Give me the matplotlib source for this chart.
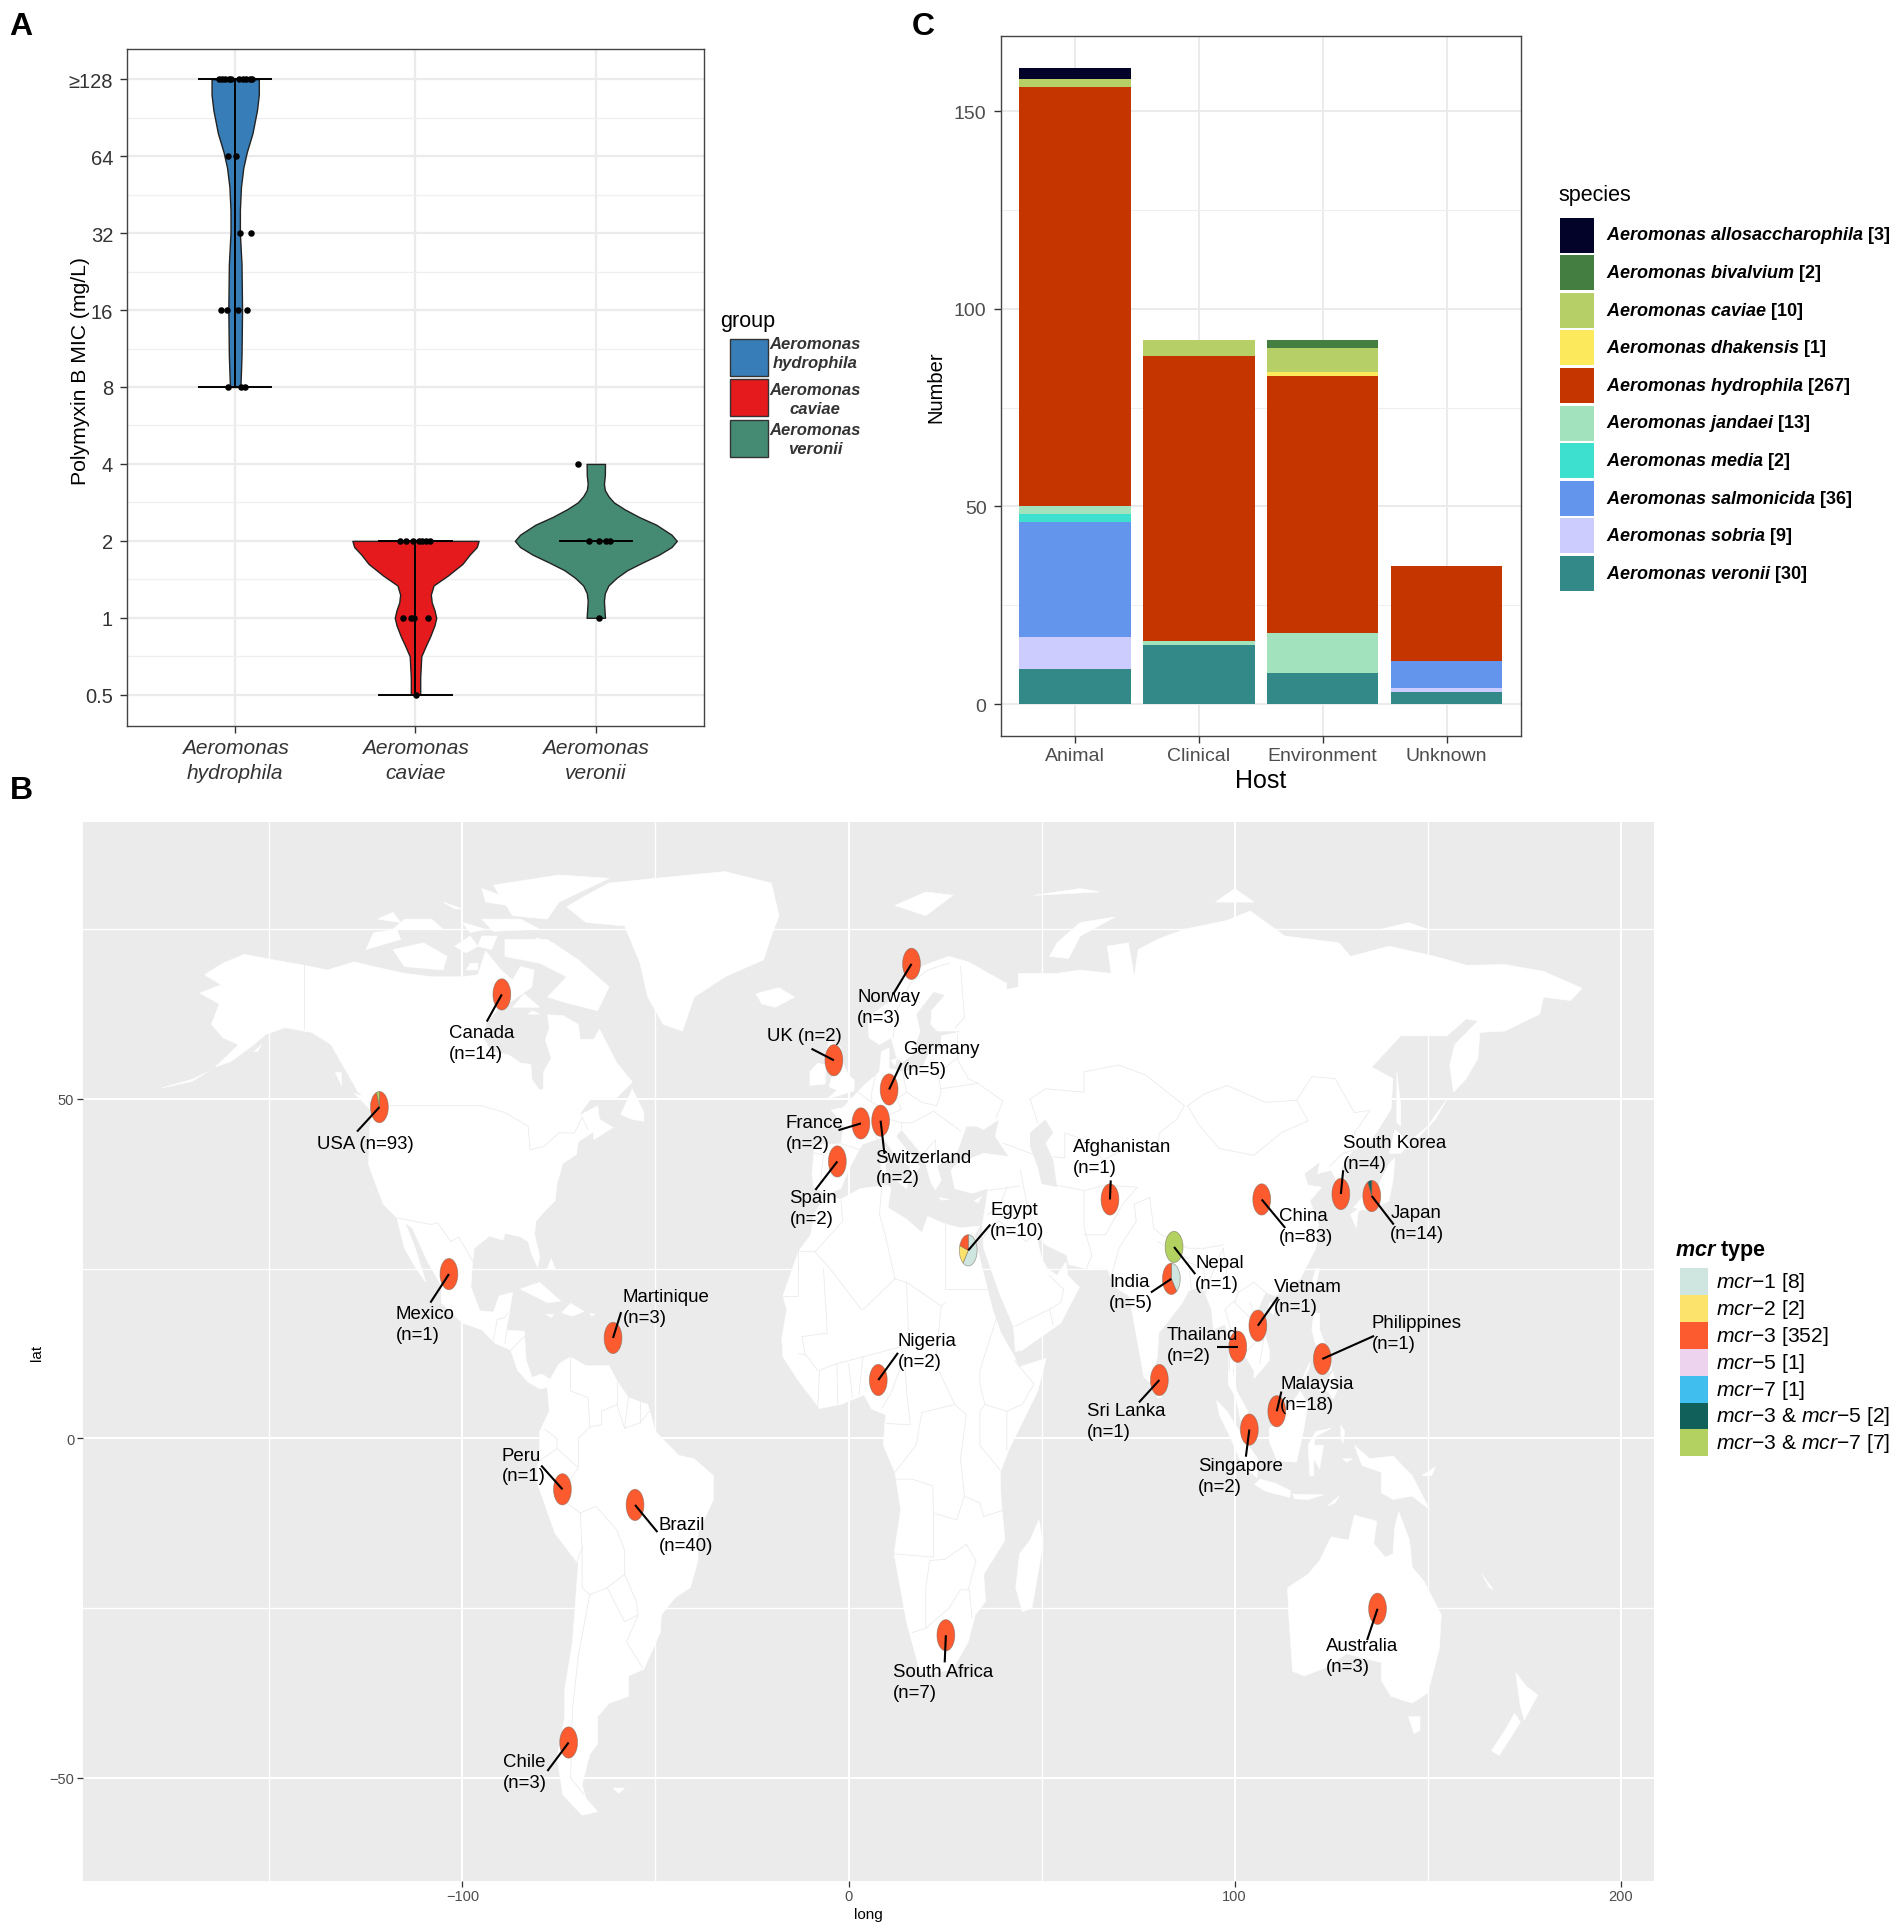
import numpy as np
import matplotlib
matplotlib.use('Agg')
import matplotlib.pyplot as plt
from matplotlib.patches import Wedge, Rectangle

plt.rcParams['font.family'] = 'Liberation Sans'
plt.rcParams['mathtext.fontset'] = 'custom'
plt.rcParams['mathtext.rm'] = 'Liberation Sans'
plt.rcParams['mathtext.it'] = 'Liberation Sans:italic'
plt.rcParams['mathtext.bf'] = 'Liberation Sans:bold'
plt.rcParams['mathtext.bfit'] = 'Liberation Sans:italic:bold'

W, H = 1904, 1933

#%% data panel A, MIC on log2 scale
mic_ticks = [-1, 0, 1, 2, 3, 4, 5, 6, 7]
mic_labels = ['0.5', '1', '2', '4', '8', '16', '32', '64', '≥128']
group_names = ['Aeromonas\nhydrophila', 'Aeromonas\ncaviae', 'Aeromonas\nveronii']
group_colors = ['#377EB8', '#E41A1C', '#458B74']

hydro_y = [3, 3.2, 3.4, 4, 4.6, 5, 5.3, 5.6, 5.85, 6.05, 6.3, 6.6, 6.8, 7]
hydro_w = [.029, .032, .035, .038, .035, .026, .026, .032, .045, .064, .096, .121, .131, .131]
cav_y = [-1, -.78, -.5, -.35, -.25, -.1, 0, .1, .2, .3, .42, .55, .7, .82, .92, 1]
cav_w = [.026, .026, .032, .06, .08, .105, .115, .105, .09, .085, .1, .18, .26, .3, .34, .35]
ver_y = [0, .1, .22, .32, .42, .52, .62, .72, .82, .92, 1, 1.08, 1.21, 1.31, 1.41, 1.5, 1.58, 1.66, 1.74, 1.85, 2]
ver_w = [.051, .048, .045, .05, .07, .115, .175, .26, .35, .42, .449, .42, .335, .24, .16, .1, .07, .05, .045, .05, .051]

hydro_pts_x = [.908, .927, .946, .965, .978, 1.022, 1.041, 1.06, 1.08, 1.092, .959, 1.006, 1.025, 1.089,
               .924, .952, 1.016, 1.064, .959, 1.035, 1.054]
hydro_pts_y = [7, 7, 7, 7, 7, 7, 7, 7, 7, 7, 6, 6, 5, 5, 4, 4, 4, 4, 3, 3, 3]
cav_pts_x = [1.914, 1.949, 1.984, 2.019, 2.038, 2.057, 2.083, 1.93, 1.975, 1.994, 2.067, 2.003]
cav_pts_y = [1, 1, 1, 1, 1, 1, 1, 0, 0, 0, 0, -1]
ver_pts_x = [2.901, 2.962, 3.019, 3.054, 3.076, 3.019]
ver_pts_y = [2, 1, 1, 1, 1, 0]

#%% data panel C
hosts = ['Animal', 'Clinical', 'Environment', 'Unknown']
species = ['allosaccharophila', 'bivalvium', 'caviae', 'dhakensis', 'hydrophila',
           'jandaei', 'media', 'salmonicida', 'sobria', 'veronii']
species_n = [3, 2, 10, 1, 267, 13, 2, 36, 9, 30]
species_colors = ['#03032A', '#447F41', '#B6D067', '#FDE95C', '#C53500',
                  '#A2E3BE', '#3DE0CF', '#6495ED', '#CCCCFF', '#338888']
counts = {
    'veronii': [9, 15, 8, 3],
    'sobria': [8, 0, 0, 1],
    'salmonicida': [29, 0, 0, 7],
    'media': [2, 0, 0, 0],
    'jandaei': [2, 1, 10, 0],
    'hydrophila': [106, 72, 65, 24],
    'dhakensis': [0, 0, 1, 0],
    'caviae': [2, 4, 6, 0],
    'bivalvium': [0, 0, 2, 0],
    'allosaccharophila': [3, 0, 0, 0],
}

#%% data panel B
mcr_labels = [r'$\mathit{mcr}$−1 [8]', r'$\mathit{mcr}$−2 [2]', r'$\mathit{mcr}$−3 [352]', r'$\mathit{mcr}$−5 [1]',
              r'$\mathit{mcr}$−7 [1]', r'$\mathit{mcr}$−3 & $\mathit{mcr}$−5 [2]', r'$\mathit{mcr}$−3 & $\mathit{mcr}$−7 [7]']
mcr_colors = ['#CFE6E0', '#FCE36B', '#FC5A2F', '#EED3EE', '#40BFEF', '#12605A', '#B2D160']

# name, lon, lat, label lon, label lat, leader lon, leader lat
sites = [
    ('USA (n=93)', -121.5, 48.8, -137.7, 43.5, -127.3, 45.2),
    ('Canada\n(n=14)', -89.8, 65.4, -103.5, 58.3, -93.7, 61.4),
    ('Norway\n(n=3)', 16.3, 69.9, 2.2, 63.6, 11.5, 65.4),
    ('UK (n=2)', -3.8, 55.7, -21.1, 59.4, -9.6, 57.4),
    ('Germany\n(n=5)', 10.5, 51.4, 14.1, 55.9, 13.7, 55.3),
    ('France\n(n=2)', 3.2, 46.4, -16.3, 45, -2.6, 45.4),
    ('Switzerland\n(n=2)', 8.3, 46.8, 7, 39.9, 9.3, 41.9),
    ('Spain\n(n=2)', -2.9, 40.8, -15.3, 33.9, -8.6, 36.6),
    ('Mexico\n(n=1)', -103.5, 24.2, -117.3, 16.9, -108.3, 20),
    ('Martinique\n(n=3)', -61, 14.8, -58.5, 19.3, -58.9, 18.6),
    ('Peru\n(n=1)', -74.1, -7.5, -89.8, -4, -79.6, -4),
    ('Brazil\n(n=40)', -55.3, -9.8, -49.2, -14.2, -49.5, -13.8),
    ('Chile\n(n=3)', -72.5, -44.8, -89.5, -49.2, -78, -49),
    ('Nigeria\n(n=2)', 7.7, 8.6, 12.8, 12.9, 12.8, 12.6),
    ('South Africa\n(n=7)', 25.2, -29, 11.5, -35.9, 24.9, -33),
    ('Egypt\n(n=10)', 31, 27.7, 36.7, 32.2, 36.7, 31.5),
    ('Afghanistan\n(n=1)', 67.7, 35.2, 58.1, 41.5, 67.9, 38),
    ('India\n(n=5)', 83.6, 23.5, 67.4, 21.5, 78.3, 21.5),
    ('Nepal\n(n=1)', 84.3, 28.2, 89.8, 24.4, 89.8, 24.2),
    ('Sri Lanka\n(n=1)', 80.5, 8.6, 61.7, 2.6, 75.2, 5.3),
    ('Thailand\n(n=2)', 100.8, 13.5, 82.4, 13.7, 95.5, 13.5),
    ('Vietnam\n(n=1)', 106, 16.6, 110.2, 20.9, 111.2, 20.8),
    ('Singapore\n(n=2)', 103.8, 1.3, 90.4, -5.6, 102.9, -2.7),
    ('Malaysia\n(n=18)', 110.9, 4, 111.8, 6.6, 112.1, 6.9),
    ('Philippines\n(n=1)', 122.7, 11.7, 135.5, 15.5, 136.1, 15.1),
    ('China\n(n=83)', 107, 35.2, 111.5, 31.3, 113.1, 31),
    ('South Korea\n(n=4)', 127.5, 36, 128.1, 42.1, 128.1, 39.5),
    ('Japan\n(n=14)', 135.5, 35.7, 140.3, 31.7, 141.2, 31.5),
    ('Australia\n(n=3)', 137, -25.1, 123.6, -32.1, 134.3, -29.7),
]
# counts per mcr type clockwise from the top, only sites that are not all mcr-3
pie_shares = {
    'USA (n=93)': [0, 0, 88, 0, 0, 0, 5],
    'Egypt\n(n=10)': [6, 2, 2, 0, 0, 0, 0],
    'India\n(n=5)': [2, 0, 3, 0, 0, 0, 0],
    'Nepal\n(n=1)': [0, 0, 0, 0, 0, 0, 1],
    'Japan\n(n=14)': [0, 0, 13, 0, 0, 1, 0],
}

# coastlines, lon/lat
north_america = [(-168,65.6),(-164,66.5),(-162.5,66.8),(-166.8,68.3),(-162,70),(-156.5,71.3),(-148,70.4),(-141,69.7),(-135,69),(-128,70.2),(-123,69.5),(-115,68.5),(-108,68),(-100,68),(-96,68.3),(-94,71.8),(-90,69),(-87,67.5),(-85,69.5),(-81.5,69),(-82,66.5),(-87,64.5),(-90.5,63.5),(-94,61),(-94.5,58.8),(-92.5,57),(-88,56.5),(-85,55.3),(-82.3,55.1),(-82,52.9),(-80,51.3),(-79,51.5),(-79,54),(-77,56),(-78.5,58.7),(-77.5,60.5),(-78,62.4),(-74,62.3),(-70,61),(-69.5,58.8),(-66,58.8),(-64.5,60.3),(-62,57.5),(-60,55.3),(-56,52.5),(-60,50.2),(-66.5,50.2),(-70,47.5),(-65,49),(-64.5,47),(-61,45.8),(-66,44),(-66,45.2),(-70,43.7),(-70.5,41.8),(-74,40.5),(-75.5,37.5),(-76,35),(-78,33.9),(-81,32),(-81.3,30),(-80,26.8),(-80.5,25.2),(-82,27),(-83,29),(-85,29.7),(-89,30.2),(-89.5,29.2),(-93,29.8),(-97,28),(-97.5,25),(-97.8,22.3),(-95.5,18.8),(-92,18.6),(-90.5,21),(-87,21.5),(-88,18),(-88.7,15.9),(-84,15.8),(-83.5,11.5),(-82,9),(-79.5,9.5),(-77.3,8.7),(-78,7.5),(-80,7.3),(-83,8.3),(-85.7,10),(-87.5,13),(-91.5,14),(-95,16),(-100,17),(-105.5,20),(-105.5,22.5),(-109,26),(-113,31),(-114.8,31.7),(-112.5,28.5),(-110,24),(-109.5,23),(-112,25),(-115,28),(-117,32.5),(-120.5,34.5),(-122.5,37.5),(-124.3,40.3),(-124,46),(-122.8,49),(-127,51),(-130.5,54.5),(-134,58),(-139,59.8),(-146,60.5),(-151,59.5),(-154,58),(-160,55.5),(-164,54.7),(-158,58),(-162,59),(-165,61),(-163,64)]
south_america = [(-77.3,8.7),(-75,11),(-72,12),(-68,10.7),(-62,10.7),(-60,8.5),(-57,6),(-52,5),(-50,1),(-44,-2.5),(-40,-3),(-35,-5.5),(-35,-9),(-39,-14),(-39,-18),(-41,-22),(-45,-23.5),(-48.5,-26),(-48.7,-28.5),(-53,-34),(-57,-35),(-57,-38),(-62,-39),(-65,-41),(-65,-45),(-67,-46.5),(-69,-51),(-68,-53),(-65,-55),(-69,-55.5),(-74,-52.5),(-75.5,-47),(-73.5,-41),(-73.5,-37),(-71.5,-30),(-70,-18.5),(-76,-14),(-81,-6),(-80,-2),(-80,1),(-77.5,4),(-78,7.5)]
africa = [(-5.9,35.8),(-2,35.2),(3,36.8),(10,37.3),(11,36.9),(10.2,34),(15,32.3),(19,30.3),(20.5,32.7),(25,31.6),(29,31),(32.5,31.2),(34,31.3),(32.6,29.9),(34,26.5),(36,22),(37.3,19),(39.5,15.5),(43,12),(44,10.5),(51.2,11.8),(49,7),(46,3.5),(41.5,-1.7),(39.3,-5),(39.5,-9),(40.5,-15),(35,-20),(35.5,-24),(32.8,-26),(31,-30),(27,-34),(20,-34.8),(18.3,-34),(15,-27),(11.8,-17),(13.5,-10.5),(12,-5),(9,-1),(9.6,3.5),(6,4.3),(4,6.4),(-2,5),(-7.5,4.4),(-13,8.5),(-17,12),(-17.3,14.7),(-16,19),(-17,21),(-13,27.5),(-9.8,30),(-9,33)]
eurasia = [(-5.5,36),(-9,37),(-9.5,38.8),(-8.8,43.2),(-2,43.4),(-1.2,46),(-4.5,48.4),(-1.5,48.7),(1.5,50.5),(4,52),(8,54),(8.5,57),(10.5,57.5),(10.5,54.5),(14,54),(19,54.5),(21,57),(24,57.5),(24,59.3),(30,60),(23,60),(21.3,61),(21.5,63),(25,65.3),(22,65.8),(17.5,62.5),(18.5,60),(16.5,56.5),(14,55.5),(12.5,56),(11,59),(8,58),(5.3,59),(5,62),(11,64.5),(15,68.5),(21,70),(26,71),(31,70.2),(41,67),(40.5,64.7),(35,64.5),(33,66.7),(40,66),(44,66.5),(44,68.5),(54,68.5),(60,69),(68,68.5),(67,72.5),(72.5,73),(74,68),(75,72),(80,73.5),(87,75),(98,76.3),(104,77.7),(113,74),(127,73),(130,71),(140,72.5),(152,71),(160,69.7),(170,69.8),(180,68.8),(190,66.3),(187,64.5),(180,65),(179,62.5),(170,60),(163.5,59.8),(163,56),(160,53),(156.7,51),(155.7,55),(157,58),(163,61.5),(160,61.8),(155,59.3),(143,59.3),(135.5,54.7),(141,53),(140.5,48.5),(135,43.5),(130.7,42.5),(127.5,39.7),(129.4,37),(129,35.2),(126.5,34.5),(126.7,37.5),(125,39.5),(121.5,39),(122,40.7),(118,39),(119,37.3),(122.5,37),(119.5,35),(121.8,31.5),(121,28),(117,23.5),(110.5,21),(108,21.5),(106,19),(109,13),(109,11.5),(105,8.8),(105,10),(102.5,12.3),(100.8,13.3),(99.5,10),(100.5,7),(103.4,4),(104.2,1.4),(101.5,2.8),(100.3,6),(98.3,8),(98.6,14),(97.5,16.8),(94.5,16),(94,19),(91.5,22.5),(88,21.7),(86.5,20),(80.3,15.5),(80,12),(78,8.3),(76.5,9),(73,20),(72.6,21),(69,22.3),(67,25),(61.6,25),(57,25.6),(56.5,27),(51,28.5),(48.5,30.2),(50,26.5),(51.5,25),(54,24),(56.3,26),(56.8,24),(59.8,22.3),(55,17),(45,13),(43.2,12.8),(42.7,16.5),(39,21.5),(35,28),(34.6,31.3),(35.8,35.5),(36,36.8),(32,36.1),(27.5,36.8),(26.5,39.5),(29,41),(31.5,41.2),(35,42),(41.5,41.5),(38,44.5),(39,47),(35,45.5),(33,46),(30.5,46),(28,42),(26,40.7),(24,40.7),(23,40),(24,38),(22.5,36.6),(21.3,37.7),(19.5,41.5),(13.7,45.5),(12.3,44.5),(16,41.8),(18.5,40),(16.6,38.5),(15.7,38),(15.9,40),(12,41.8),(8.9,44.4),(3.5,43.3),(0.2,39.8),(-2,36.8)]
australia = [(113.7,-22),(114,-26),(115,-34.3),(118,-35),(123.5,-33.8),(129,-31.7),(134,-32.5),(138,-33),(138,-35.7),(140.5,-38),(146,-39),(150,-37.5),(153,-31),(153.5,-26),(149,-21),(146,-19),(145.3,-15),(142.5,-10.8),(141.5,-13),(141,-17),(139,-17.5),(136,-15.5),(136.8,-12.2),(131,-11.3),(129.5,-15),(125,-14.5),(122,-18),(119,-20)]
greenland = [(-73,78.3),(-68,80),(-62,81.8),(-50,82.5),(-32,83.5),(-20,81.8),(-18,77),(-20,74),(-22,70.5),(-32,68),(-40,65),(-43,60),(-48,61),(-52,65),(-54,70),(-58,75.5),(-68,76)]
islands = [
    [(-62,66.5),(-65,63),(-72,64),(-78,65),(-73,68),(-80,70),(-89,71),(-89,73.5),(-78,73.5),(-70,70.5)],
    [(-105,69),(-115,69.5),(-118,72),(-110,73),(-104,71)],
    [(-116,73.5),(-125,72),(-123,74.5),(-117,75)],
    [(-62,82.5),(-75,83),(-92,81.5),(-87,77),(-78,76.5),(-75,79)],
    [(-80,75),(-92,74.7),(-95,76.5),(-85,76.5)],
    [(-105,75),(-118,75),(-115,76.5),(-108,76.5)],
    [(-99,71.5),(-102,72.5),(-98,74),(-96,72.5)],
    [(-92.5,72),(-96,72.5),(-95,74),(-91,74)],
    [(-96,69),(-99,69),(-98,70),(-96,70)],
    [(-90,80),(-95,81),(-94,79),(-88,78.5)],
    [(-94,75),(-100,76),(-98,74.5)],
    [(-116,76),(-122,76.5),(-118,77.5)],
    [(-100,78),(-105,79),(-102,78)],
    [(-77,73),(-81,73.7),(-76,72.8)],
    [(-83,62.5),(-80,62.5),(-82,63)],
    [(-128,50.8),(-124,48.5),(-123.5,48.6),(-125,50.3)],
    [(-133,54),(-131.5,54),(-131.5,52)],
    [(-154,57),(-152,58),(-153,57)],
    [(-166,54),(-170,52.9),(-178,51.6),(-170,52.6)],
    [(-59,47.7),(-56,51.5),(-53,48),(-53,46.7),(-56,47)],
    [(-80,63.5),(-87,63.5),(-84,65.5)],
    [(-85,22),(-80,23),(-74.5,20.2),(-78,20)],
    [(-74.3,18.5),(-72,19.9),(-68.5,18.7),(-71.5,18)],
    [(-78.3,18.3),(-76.3,18.2),(-77,17.8)],
    [(-67,18.4),(-65.7,18.3),(-66.5,18)],
    [(-78,25),(-77,26.5),(-76,25)],
    [(-24,65.5),(-18,66.4),(-14,65),(-19,63.5),(-22.5,64)],
    [(-5.5,50),(1.4,51.2),(1.5,52.8),(0,53.5),(-2,56),(-2,57.6),(-5,58.6),(-6,56.5),(-3,54.5),(-4.5,53),(-5,51.8),(-3,51.3)],
    [(-10,52),(-6,52.2),(-6,55),(-8,55.3),(-10,54)],
    [(12,78.5),(20,80.5),(27,80),(20,77)],
    [(52,71),(57,70.7),(60,74),(69,76.8),(60,76),(54,73)],
    [(95,79),(105,79),(100,81)],
    [(138,75),(145,76),(150,75)],
    [(48,80),(60,81),(65,80.5)],
    [(142,54),(143,49),(143,46),(142,46.5),(142,50)],
    [(146,44),(150,46),(155,50),(152,47),(147,44)],
    [(130.8,34),(135,33.5),(140,35),(141,38),(141.5,41.3),(140,40.5),(137,37),(133,35.5)],
    [(140,42),(141.5,45.5),(145.5,43.3),(143,42)],
    [(130,33),(131.5,31),(132,33.5),(134.5,34),(132.5,34)],
    [(121,25),(122,25),(120.8,22),(120,23)],
    [(109,20),(111,19.8),(110,18.2),(108.7,19)],
    [(120.5,18.5),(122,18.4),(122,16),(124,13),(121,13.7),(120,16)],
    [(122,7),(125.5,9.8),(126.5,7),(125.5,5.8),(124,7)],
    [(122,11.8),(125,12.5),(125,10),(123,9.5)],
    [(117.2,8.4),(119.5,11.3),(119.2,10.2),(117.5,8.3)],
    [(95.3,5.6),(98,4),(103.5,-1),(106,-3),(105.8,-5.8),(102,-4),(99,0),(96,3.5)],
    [(105.2,-6.8),(106.5,-6),(110.5,-6.6),(114.5,-7.7),(114.3,-8.7),(108,-7.8)],
    [(115,-8.2),(119,-8.3),(123,-8.3),(119,-9),(115.5,-8.9)],
    [(109,1.5),(111.5,2.5),(114,4.5),(117,7),(119,5),(117.8,1),(116,-3.5),(111,-3.3),(109,-0.5)],
    [(119.5,-5.5),(119,-1),(121,1),(125,1.5),(121,0.3),(120.5,-1),(123,-1),(122,-4.5),(120.5,-3),(120.5,-5.5)],
    [(127.5,2),(128.5,1),(128,-0.8),(127.5,0.5)],
    [(128,-3),(130.5,-3),(129,-3.5)],
    [(131,-1),(135,-3),(141,-2.6),(146,-5.5),(150.5,-10.5),(146,-8.5),(141,-9),(138,-8),(138,-5),(133,-4)],
    [(148.5,-5.5),(152,-4.2),(151,-5.5)],
    [(124,-10),(127,-8.5),(126,-9.5)],
    [(80,9.8),(81.8,7.5),(81,6),(80,6),(79.8,8)],
    [(49.3,-12),(50.4,-15.5),(47.5,-25),(45,-25.5),(43.3,-22),(44.3,-17),(47,-15)],
    [(145,-41),(148,-41),(148,-43),(146.5,-43.5)],
    [(172.8,-34.5),(175.5,-36.5),(178.5,-37.8),(175,-41.5),(174,-39.5)],
    [(172.5,-40.5),(174,-41.8),(171,-44.5),(168.5,-46.7),(166.5,-46),(170,-43)],
    [(164,-20),(167,-22.3),(166,-22)],
    [(12.5,38),(15.6,38.2),(15,36.7)],
    [(8.3,41),(9.7,41),(9.6,39.1),(8.5,39)],
    [(8.7,42.5),(9.5,43),(9.4,41.6)],
    [(23.5,35.5),(26,35.2),(24,35.1)],
    [(32.5,35),(34.5,35.6),(33.5,34.7)],
    [(11,55.7),(12.5,56),(12,54.9)],
    [(-61,-51.5),(-58,-51.5),(-59.5,-52.3)],
]
caspian = [(47,45),(51,47),(53,45),(51,43.5),(53,41),(54,37),(50,37.5),(49,40),(47,43)]
# country borders
borders = [
    [(-141,69.7),(-141,60.3)],
    [(-123,49),(-95,49),(-89,48),(-83,46),(-82.5,42.5),(-79,43),(-75,45),(-71,45),(-69,47.3),(-67.5,45.5)],
    [(-117,32.5),(-108,31.5),(-106.5,31.8),(-103,29),(-101,29.7),(-97.2,26)],
    [(-92,14.5),(-91,17.5),(-89,17.8),(-88.3,18.5)],
    [(-89,14),(-88.5,15.8)],
    [(-87.5,13),(-84,15)],
    [(-72,12),(-72,7),(-67.5,6),(-67,1.7)],
    [(-51.6,4),(-54,2.3),(-58,1.5),(-60,5),(-64,4),(-64,2),(-67,1.7),(-70,0),(-70,-4.3),(-74,-7.5),(-73,-9.5),(-69.5,-11),(-65.4,-10),(-60,-13.5),(-58,-16.5),(-58,-20),(-55,-24),(-54.5,-26),(-57.5,-30),(-53.4,-33.7)],
    [(-80.3,-3.4),(-75.5,-1.5),(-70,-4.3)],
    [(-78.8,1.4),(-75.5,0),(-75.5,-1.5)],
    [(-69.5,-11),(-69,-16),(-70.4,-18.3)],
    [(-69,-16),(-69,-22),(-67,-23),(-70,-32),(-71.5,-40),(-72,-50),(-68.5,-52.5)],
    [(-67,-23),(-62.5,-22),(-58,-20)],
    [(-62.5,-22),(-58,-27),(-54.5,-26)],
    [(-60,8.3),(-60,5)],
    [(-57,6),(-58,1.5)],
    [(-54,5.8),(-54,2.3)],
    [(-2,35),(-1.5,32),(-8.7,27.5),(-13,27.5)],
    [(-8.7,27.5),(-4.8,25),(3.3,19),(4,19.1),(12,23.5),(9.5,30),(8,33),(8.6,37)],
    [(25,31.6),(25,22)],
    [(25,22),(36.8,22)],
    [(12,23.5),(15,23),(24,19.5),(25,20)],
    [(15,23),(15.5,16),(13.5,13.5)],
    [(3.7,12),(13.5,13.5),(14.5,12)],
    [(14.5,12),(11,6.7),(8.7,4.5)],
    [(2.7,6.4),(3.7,12)],
    [(-12,15),(-5.5,15.5),(-6.5,25)],
    [(-17,21),(-13,21),(-13,27.5)],
    [(24,19.5),(22.5,11),(27.5,5)],
    [(36.8,22),(38.5,18),(36.5,14.5),(34,10),(34,8),(35.3,5)],
    [(43,11.5),(48,8),(45,5),(41,4)],
    [(41,-1.7),(41,4),(35.3,5),(34,4),(34,-1),(39.3,-4.7)],
    [(12.2,-6),(16.5,-6),(21.8,-7),(22,-11),(28,-12),(30,-8.5),(29,-3),(30.5,3.5),(27.5,5),(19,3.8),(17.5,-1),(12,-5)],
    [(11.8,-17),(22,-17.5),(22,-11)],
    [(20,-28),(20,-22),(21,-18),(25,-17.8)],
    [(16.5,-28.6),(20,-28),(26,-25),(29,-22.3),(31.3,-22.3),(32,-26.5)],
    [(40.5,-10.5),(35,-11.5),(34,-9.5),(30,-8.5)],
    [(31,-22.3),(33,-18),(30.5,-15.6),(25,-17.8)],
    [(-8,4.5),(-7.5,10),(-5.5,10.5),(-3,11),(-2.8,5)],
    [(-3,11),(3.7,12)],
    [(1,6),(0,11)],
    [(-13,12.5),(-11,12.3),(-8,10)],
    [(-12,15),(-11.3,12.3)],
    [(9.8,2.2),(16,2),(15,7),(14.5,12)],
    [(34.9,29.5),(37,31.5),(39,32),(46,29),(48,30)],
    [(36,33),(39,34),(41,37)],
    [(48.5,30),(46,35),(44.5,39.5)],
    [(36,36.5),(44.5,37.2)],
    [(43,16.5),(52,19),(55,20),(55.7,22),(52,24)],
    [(52,19),(53,16.7)],
    [(61,36.5),(61,31),(63,27),(61.6,25)],
    [(61,30),(66.5,30),(71,34.5),(74.8,37)],
    [(53.9,37.3),(61,36.5),(66.5,37.3),(74.8,37)],
    [(49,46.5),(47,50),(51,51.5),(61,51),(61,54),(70,55),(77,53.5),(87,49)],
    [(53,41.5),(56,41.3),(56,45),(61,44),(66,41),(71,42.5),(80,42.5),(80.5,45),(85,47),(87,49)],
    [(68,23.7),(70,28),(74.5,32),(74,34.5),(78,35.5)],
    [(78,35.5),(79,31),(81,30),(88,28),(92,28),(97,28.5)],
    [(80,29),(88,26.5)],
    [(88,26),(88.8,22)],
    [(88,26),(92,25),(92.5,21.5)],
    [(92.5,21.5),(94,24),(97,28)],
    [(97,28),(98,24),(101,21.5)],
    [(101,21.5),(105,23),(108,21.5)],
    [(101,21.5),(100,20),(104.5,17.5),(105.5,14.3)],
    [(102.5,12.5),(105.5,14.3),(107.5,14.5)],
    [(104,20),(107.5,14.5),(106.5,11)],
    [(98.6,10),(99,16),(97.5,19),(100,20.3)],
    [(87.8,49),(91,46),(96,42.7),(105,41.7),(112,45),(119,46.8),(116,49.8),(108,49.5),(98,52),(92,50.7),(87.8,49)],
    [(116,49.8),(120,53.3),(126,53),(131,48),(135,48.3),(131,45),(130.7,42.5)],
    [(124.5,40),(128,42),(130.6,42.4)],
    [(126.5,37.8),(128.5,38.5)],
    [(-1.8,43.4),(3,42.5)],
    [(-8.8,42),(-6.5,41.8),(-7.4,37.2)],
    [(2.5,51),(6,49.5),(8,49),(7.5,47.5),(6.5,46),(7.5,43.8)],
    [(7,53.5),(6,51),(6,49.5)],
    [(14,54),(15,51),(12.5,50),(13.7,48.5),(10,47.5),(7.5,47.5)],
    [(23,54.3),(24,51),(22.8,49),(19,49.5),(15,51)],
    [(7,46),(10.5,47),(13.7,46.5),(13.7,45.6)],
    [(13.7,46.5),(16.5,46.5),(22,48.2),(29,45.3)],
    [(19.5,42),(22.5,44),(22.7,41.5),(26,41.5)],
    [(33.5,52.3),(40,49.7),(38.2,47.2)],
    [(23.5,53.9),(28,56),(31,53),(33.5,52.3),(24,51.5)],
    [(28,56),(28,59.5)],
    [(29,69.5),(30,62),(27.7,60.5)],
    [(11.5,59),(12.5,63),(16,67),(20.5,69),(26,70)],
    [(40,43.5),(48,41.8)],
]


def px_axes(left, top, right, bottom):
    # axes from pixel edges of the final image
    return fig.add_axes([left / W, 1 - bottom / H, (right - left) / W, (bottom - top) / H])


fig = plt.figure(figsize=(W / 100, H / 100), dpi=100)
fig.patch.set_facecolor('white')

#%% Panel A
axa = px_axes(127, 49.5, 704, 726.5)
axa.set_xlim(0.4, 3.6)
axa.set_ylim(-1.4, 7.4)
axa.set_axisbelow(True)
axa.set_yticks(mic_ticks)
axa.set_yticklabels(mic_labels, fontsize=14.5, color='#333333')
axa.set_yticks(np.arange(-0.5, 7, 1), minor=True)
axa.set_xticks([1, 2, 3])
axa.set_xticklabels(group_names, fontsize=15, style='italic', color='#333333', linespacing=1.4)
axa.grid(which='major', color='#EBEBEB', lw=1.6)
axa.grid(which='minor', color='#EFEFEF', lw=0.9)
axa.tick_params(axis='both', which='major', length=5, width=1, color='#333333', pad=5)
axa.tick_params(axis='x', which='major', pad=4)
axa.tick_params(axis='y', which='minor', length=0)
for spine in axa.spines.values():
    spine.set_color('#444444')
    spine.set_linewidth(1)

violins = [(1, hydro_y, hydro_w), (2, cav_y, cav_w), (3, ver_y, ver_w)]
for (pos, vy, vw), c in zip(violins, group_colors):
    vw = np.array(vw)
    axa.fill_betweenx(vy, pos - vw, pos + vw, facecolor=c, edgecolor='#222222', lw=1, zorder=3)

axa.plot([1, 1], [3, 7], color='k', lw=1.4, zorder=4)
axa.plot([2, 2], [-1, 1], color='k', lw=1.4, zorder=4)
for xc, yc in [(1, 7), (1, 3), (2, 1), (2, -1), (3, 1)]:
    axa.plot([xc - 0.2, xc + 0.2], [yc, yc], color='k', lw=1.4, zorder=4)
axa.scatter(hydro_pts_x, hydro_pts_y, s=22, color='k', zorder=5, lw=0)
axa.scatter(cav_pts_x, cav_pts_y, s=22, color='k', zorder=5, lw=0)
axa.scatter(ver_pts_x, ver_pts_y, s=22, color='k', zorder=5, lw=0)

#%% Panel C
axc = px_axes(1000.5, 36.7, 1521, 737)
axc.set_xlim(0.4, 4.6)
axc.set_ylim(-8.05, 169.05)
axc.set_axisbelow(True)
axc.set_xticks([1, 2, 3, 4])
axc.set_xticklabels(hosts, fontsize=14, color='#4D4D4D')
axc.set_yticks([0, 50, 100, 150])
axc.set_yticklabels(['0', '50', '100', '150'], fontsize=14, color='#4D4D4D')
axc.set_yticks([25, 75, 125], minor=True)
axc.grid(which='major', color='#EBEBEB', lw=1.4)
axc.grid(which='minor', axis='y', color='#EFEFEF', lw=0.8)
axc.tick_params(axis='both', which='major', length=5, width=1, color='#333333', pad=5)
axc.tick_params(axis='x', which='major', pad=3)
axc.tick_params(axis='y', which='minor', length=0)
for spine in axc.spines.values():
    spine.set_color('#444444')
    spine.set_linewidth(1)
axc.set_xlabel('Host', fontsize=18, labelpad=3)
axc.set_ylabel('Number', fontsize=14.5, labelpad=6)

bottom = np.zeros(4)
for name in species[::-1]:
    vals = np.array(counts[name])
    axc.bar([1, 2, 3, 4], vals, width=0.9, bottom=bottom, lw=0,
            color=species_colors[species.index(name)])
    bottom = bottom + vals

#%% Panel B
axb = px_axes(82.5, 823, 1654, 1882)
axb.set_xlim(-198.4, 208.6)
axb.set_ylim(-65.2, 90.8)
axb.set_facecolor('#EBEBEB')
axb.set_axisbelow(True)
axb.set_xticks([-100, 0, 100, 200])
axb.set_xticklabels(['−100', '0', '100', '200'], fontsize=10.5, color='#4D4D4D')
axb.set_yticks([-50, 0, 50])
axb.set_yticklabels(['−50', '0', '50'], fontsize=10.5, color='#4D4D4D')
axb.set_xticks([-150, -50, 50, 150], minor=True)
axb.set_yticks([-25, 25, 75], minor=True)
axb.grid(which='major', color='white', lw=1.5)
axb.grid(which='minor', color='white', lw=1)
axb.tick_params(axis='both', which='major', length=4, width=0.9, color='#333333', pad=2)
axb.tick_params(axis='both', which='minor', length=0)
for spine in axb.spines.values():
    spine.set_visible(False)
axb.set_xlabel('long', fontsize=11, labelpad=3)
axb.set_ylabel('lat', fontsize=11, labelpad=4)

for poly in [north_america, south_america, africa, eurasia, australia, greenland] + islands:
    xs, ys = zip(*poly)
    axb.fill(xs, ys, facecolor='white', edgecolor='white', lw=0.4, zorder=2)
xs, ys = zip(*caspian)
axb.fill(xs, ys, facecolor='#EBEBEB', lw=0, zorder=2.5)
for line in borders:
    xs, ys = zip(*line)
    axb.plot(xs, ys, color='#EBEBEB', lw=0.6, zorder=2.6)

pie_r = 2.3
for name, lon, lat, lab_lon, lab_lat, end_lon, end_lat in sites:
    shares = np.array(pie_shares.get(name, [0, 0, 1, 0, 0, 0, 0]), dtype=float)
    start = 0.0
    for share, col in zip(shares / shares.sum(), mcr_colors):
        if share == 0:
            continue
        axb.add_patch(Wedge((lon, lat), pie_r, 90 - (start + share) * 360, 90 - start * 360,
                            facecolor=col, edgecolor=(0.45, 0.4, 0.35, 0.55), lw=0.6, zorder=4))
        start += share
    axb.plot([lon, end_lon], [lat, end_lat], color='k', lw=1.5, zorder=5, solid_capstyle='butt')
    axb.text(lab_lon, lab_lat, name, fontsize=13.4, ha='left', va='center', color='k', zorder=6, linespacing=1.3)

#%% letters and legends on a pixel overlay
ov = fig.add_axes([0, 0, 1, 1], facecolor='none')
ov.set_xlim(0, W)
ov.set_ylim(H, 0)
ov.axis('off')
for letter, lx, ly in [('A', 21, 27), ('C', 923, 27), ('B', 21, 791)]:
    ov.text(lx, ly, letter, fontsize=23, weight='bold', ha='center', va='center')
ov.text(81, 371, 'Polymyxin B MIC (mg/L)', fontsize=15.2, rotation=90, ha='center', va='center')

# legend A
ov.text(720, 322, 'group', fontsize=15.5, va='center', ha='left')
swatch_tops = [340, 380, 421]
label_mid = [354, 400, 440]
for top, mid, c, name in zip(swatch_tops, label_mid, group_colors, group_names):
    ov.add_patch(Rectangle((730, top), 38, 37, facecolor=c, edgecolor='#333333', lw=1))
    ov.text(815, mid, name, fontsize=12, weight='bold', style='italic', color='#333333',
            ha='center', va='center', linespacing=1.4)

# legend C
ov.text(1558, 195, 'species', fontsize=15.5, va='center', ha='left')
for i, (name, n, c) in enumerate(zip(species, species_n, species_colors)):
    yc = 236 + i * 37.6
    ov.add_patch(Rectangle((1560, yc - 17.5), 34, 35, facecolor=c, lw=0))
    ov.text(1606, yc, r'$\mathbfit{Aeromonas\ %s}$ [%d]' % (name, n), fontsize=13,
            weight='bold', va='center', ha='left')

# legend B
ov.text(1675, 1251, r'$\mathbfit{mcr}$ type', fontsize=15.5, weight='bold', va='center', ha='left')
for i, (lab, c) in enumerate(zip(mcr_labels, mcr_colors)):
    yc = 1282.7 + i * 26.85
    ov.add_patch(Rectangle((1680, yc - 13.4), 27.5, 26.8, facecolor=c, lw=0))
    ov.text(1715.6, yc, lab, fontsize=15.2, va='center', ha='left')

plt.savefig('out.png', dpi=100)
